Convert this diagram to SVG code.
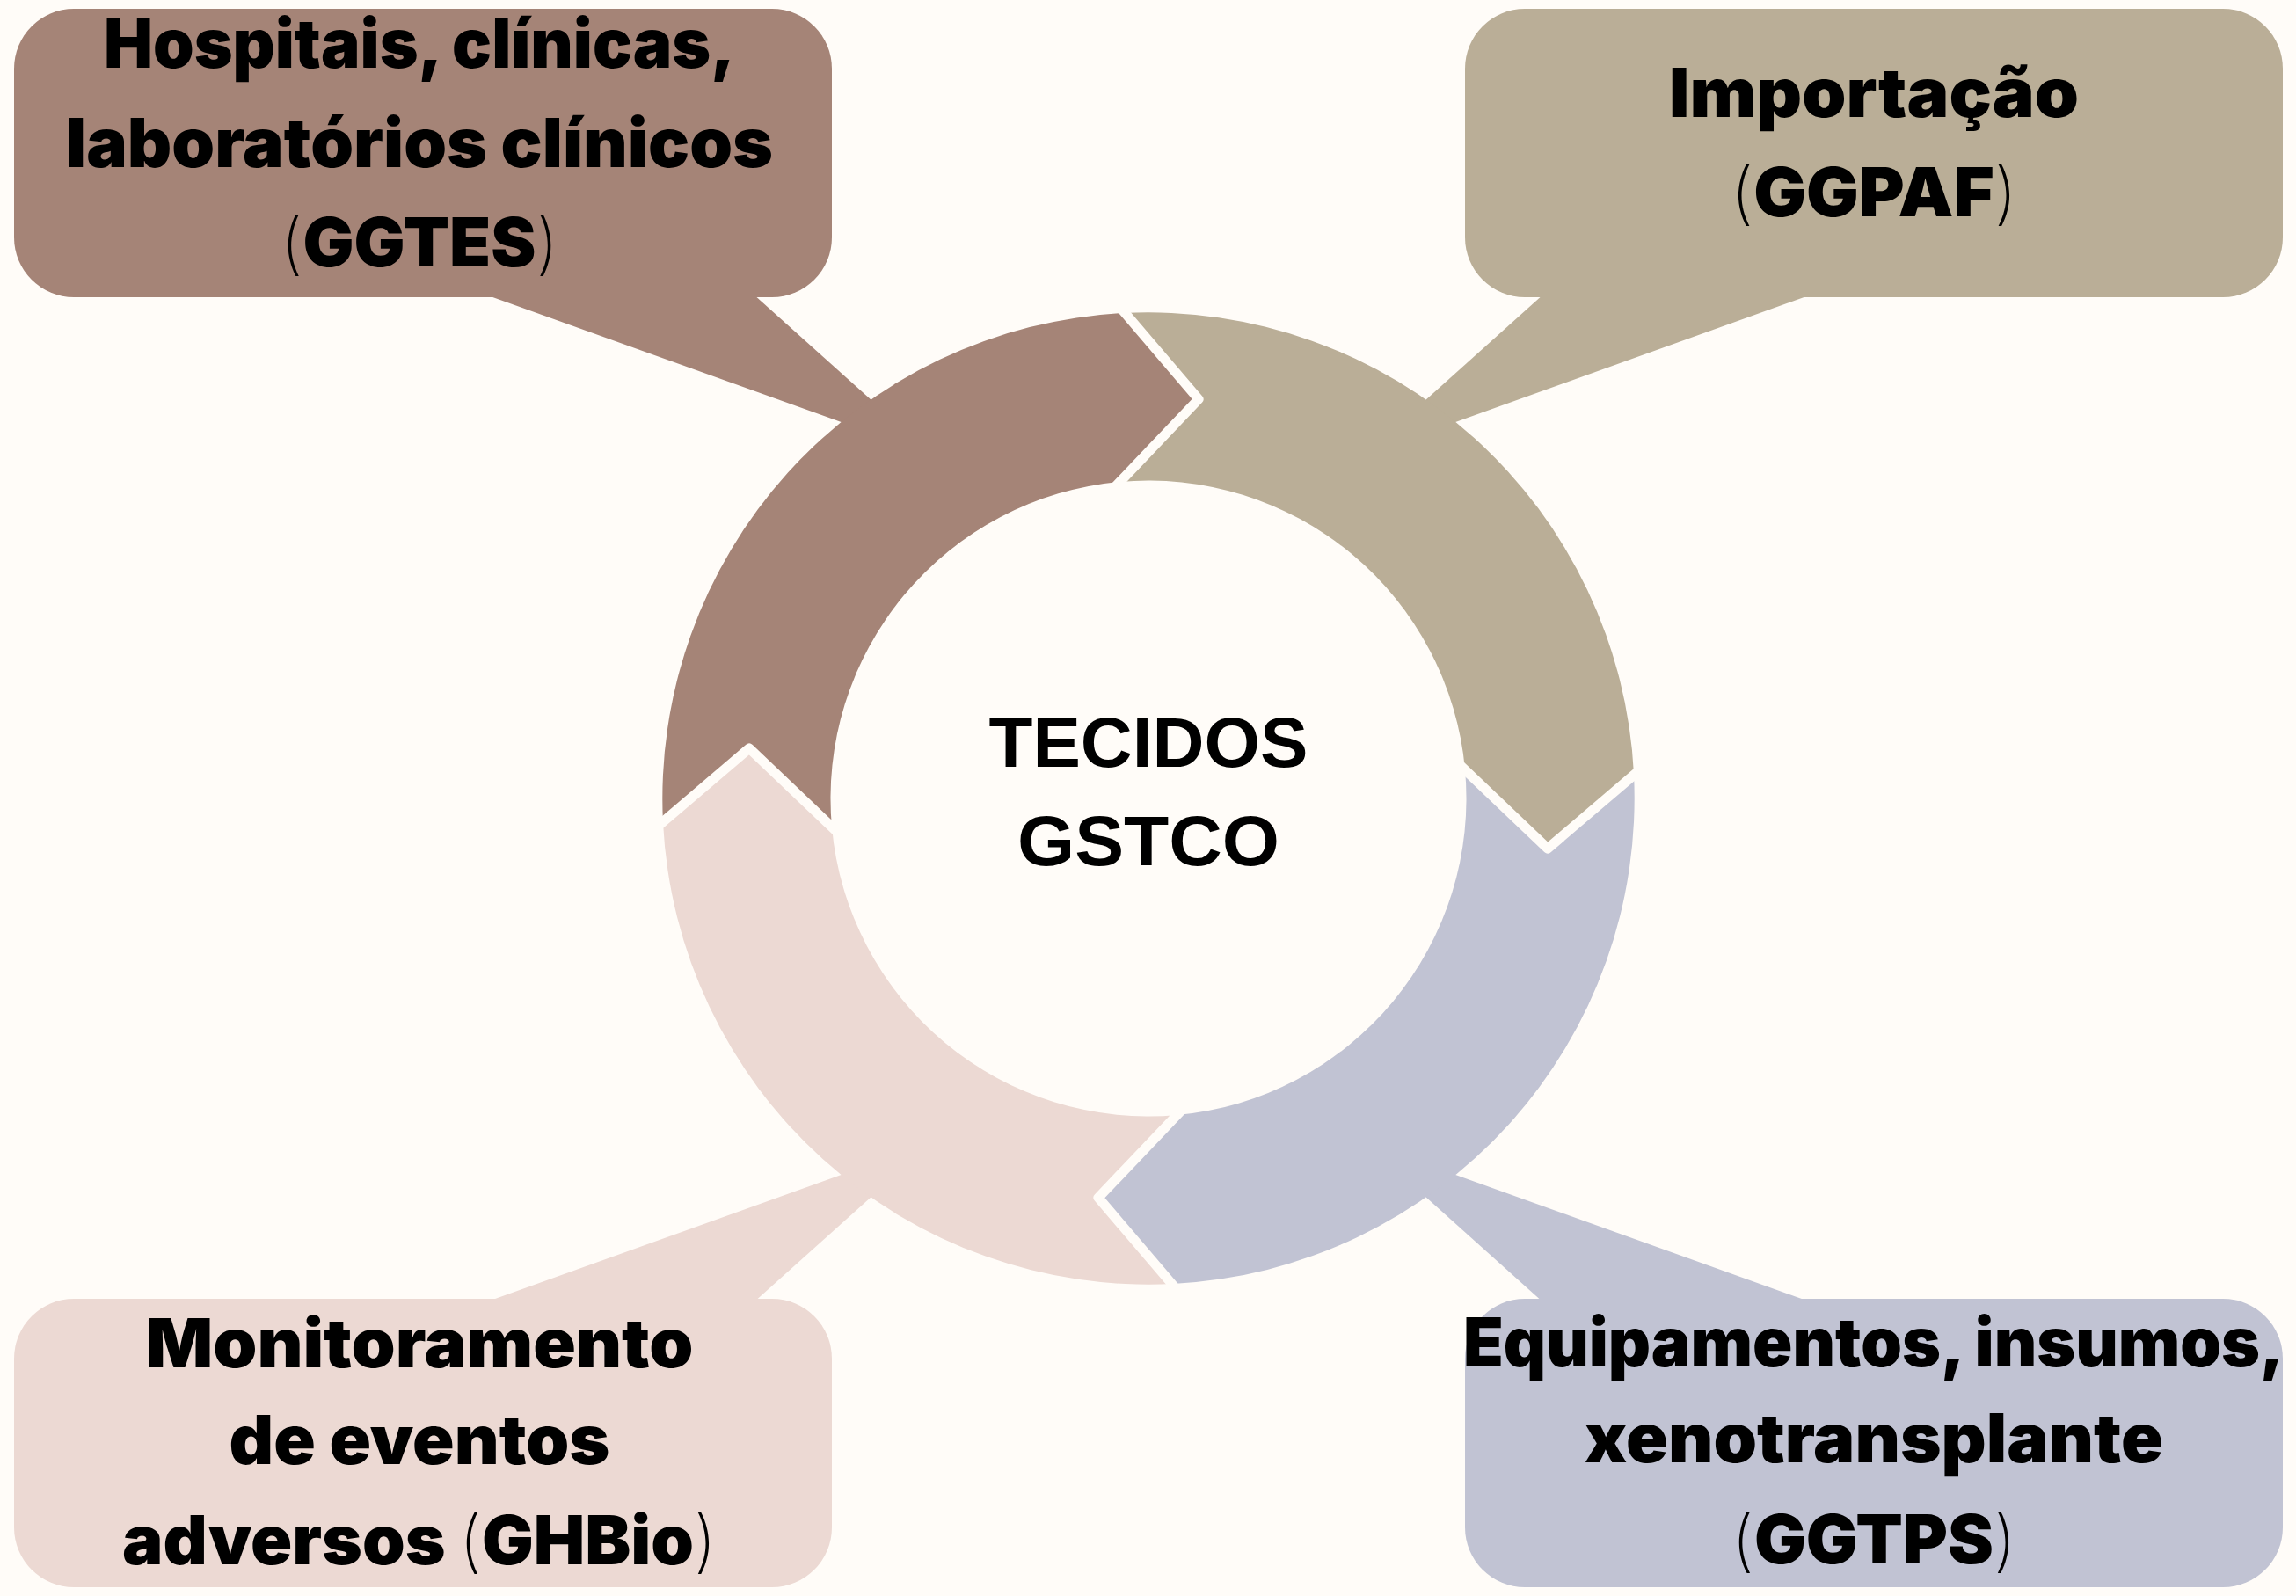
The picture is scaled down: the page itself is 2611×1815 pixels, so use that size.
<svg xmlns="http://www.w3.org/2000/svg" width="2611" height="1815" viewBox="0 0 2611 1815">
  <style>
    .lbl { font-family: Inter, "Liberation Sans", sans-serif; font-weight: 900; font-size: 77px; fill: #000; text-anchor: middle; }
    .p { font-weight: 200; }
    .ctr { font-family: "Liberation Sans", Arial, sans-serif; font-weight: 700; font-size: 80px; fill: #000; text-anchor: middle; }
    .sep { fill: none; stroke: #FFFCF8; stroke-width: 11; stroke-linejoin: round; stroke-linecap: butt; }
    .c1 { fill: #A58477; }
    .c2 { fill: #BAAE97; }
    .c3 { fill: #C1C3D3; }
    .c4 { fill: #ECD9D3; }
  </style>
  <defs>
    <path id="seg" d="M -552,28 A 553 553 0 0 1 -28,-552 L 57,-454 L -33,-360 A 361.5 361.5 0 0 0 -360,33 L -454,-57 Z"/>
    <polyline id="sepline" points="-36,-563 57,-454 -42,-350"/>
  </defs>
  <rect x="0" y="0" width="2611" height="1815" fill="#FFFCF8"/>

  <g id="connectors">
    <polygon class="c1" points="524,325 846,325 1060,517"/>
    <polygon class="c2" points="2088,325 1766,325 1552,517"/>
    <polygon class="c3" points="2088,1491 1766,1491 1552,1299"/>
    <polygon class="c4" points="524,1491 846,1491 1060,1299"/>
  </g>

  <g id="ring" transform="translate(1306,908)">
    <use href="#seg" class="c1"/>
    <use href="#seg" class="c2" transform="rotate(90)"/>
    <use href="#seg" class="c3" transform="rotate(180)"/>
    <use href="#seg" class="c4" transform="rotate(270)"/>
    <use href="#sepline" class="sep"/>
    <use href="#sepline" class="sep" transform="rotate(90)"/>
    <use href="#sepline" class="sep" transform="rotate(180)"/>
    <use href="#sepline" class="sep" transform="rotate(270)"/>
  </g>

  <g id="node-center">
    <text class="ctr" x="1306" y="872" textLength="363" lengthAdjust="spacingAndGlyphs">TECIDOS</text>
    <text class="ctr" x="1306" y="984" textLength="298" lengthAdjust="spacingAndGlyphs">GSTCO</text>
  </g>

  <g id="node-ggtes">
    <rect class="c1" x="16" y="10" width="930" height="328" rx="68" ry="68"/>
    <text class="lbl" x="477" y="77" textLength="718" lengthAdjust="spacingAndGlyphs">Hospitais, clínicas,</text>
    <text class="lbl" x="477" y="190" textLength="804" lengthAdjust="spacingAndGlyphs">laboratórios clínicos</text>
    <text class="lbl" x="477" y="303" textLength="316" lengthAdjust="spacingAndGlyphs"><tspan class="p">(</tspan>GGTES<tspan class="p">)</tspan></text>
  </g>

  <g id="node-ggpaf">
    <rect class="c2" x="1666" y="10" width="930" height="328" rx="68" ry="68"/>
    <text class="lbl" x="2131" y="133" textLength="466" lengthAdjust="spacingAndGlyphs">Importação</text>
    <text class="lbl" x="2131" y="246" textLength="326" lengthAdjust="spacingAndGlyphs"><tspan class="p">(</tspan>GGPAF<tspan class="p">)</tspan></text>
  </g>

  <g id="node-ggtps">
    <rect class="c3" x="1666" y="1477" width="930" height="328" rx="68" ry="68"/>
    <text class="lbl" x="2131" y="1554" textLength="934" lengthAdjust="spacingAndGlyphs">Equipamentos, insumos,</text>
    <text class="lbl" x="2131" y="1663" textLength="658" lengthAdjust="spacingAndGlyphs">xenotransplante</text>
    <text class="lbl" x="2131" y="1778" textLength="324" lengthAdjust="spacingAndGlyphs"><tspan class="p">(</tspan>GGTPS<tspan class="p">)</tspan></text>
  </g>

  <g id="node-ghbio">
    <rect class="c4" x="16" y="1477" width="930" height="328" rx="68" ry="68"/>
    <text class="lbl" x="477" y="1555" textLength="623" lengthAdjust="spacingAndGlyphs">Monitoramento</text>
    <text class="lbl" x="477" y="1665" textLength="433" lengthAdjust="spacingAndGlyphs">de eventos</text>
    <text class="lbl" x="477" y="1779" textLength="676" lengthAdjust="spacingAndGlyphs">adversos <tspan class="p">(</tspan>GHBio<tspan class="p">)</tspan></text>
  </g>
</svg>
